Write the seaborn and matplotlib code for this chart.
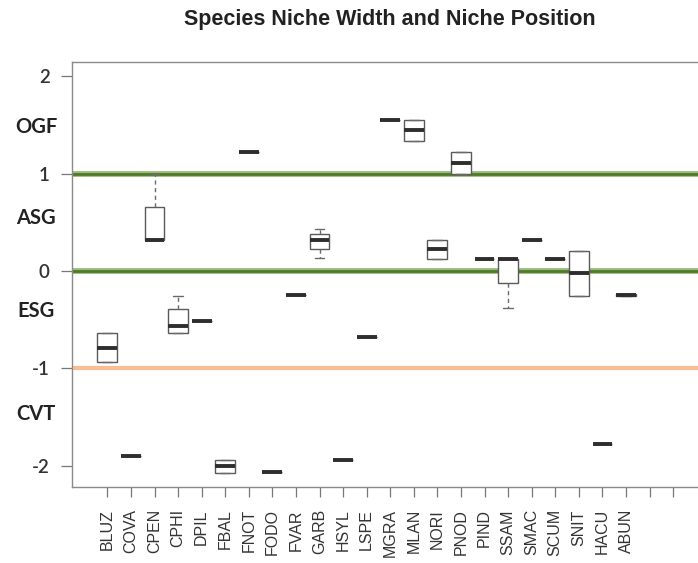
import numpy as np
import pandas as pd
import matplotlib
matplotlib.use("Agg")
import matplotlib.pyplot as plt
import matplotlib.transforms as mtransforms
import seaborn as sns

# Species codes, in axis order
species = ["BLUZ", "COVA", "CPEN", "CPHI", "DPIL", "FBAL", "FNOT", "FODO",
           "FVAR", "GARB", "HSYL", "LSPE", "MGRA", "MLAN", "NORI", "PNOD",
           "PIND", "SSAM", "SMAC", "SCUM", "SNIT", "HACU", "ABUN"]

# Five-number summaries of niche position per species
pos_min = [-0.938, -1.898, 0.319, -0.640, -0.511, -2.073, 1.220, -2.069,
           -0.250, 0.131, -1.942, -0.681, 1.552, 1.339, 0.123, 0.994,
           0.127, -0.383, 0.315, 0.127, -0.257, -1.775, -0.262]
pos_q1 = [-0.938, -1.898, 0.319, -0.640, -0.511, -2.073, 1.220, -2.069,
          -0.250, 0.223, -1.942, -0.681, 1.552, 1.339, 0.123, 0.994,
          0.127, -0.120, 0.315, 0.127, -0.257, -1.775, -0.258]
pos_med = [-0.794, -1.898, 0.319, -0.562, -0.511, -2.001, 1.220, -2.069,
           -0.250, 0.319, -1.942, -0.681, 1.552, 1.446, 0.223, 1.107,
           0.127, 0.127, 0.315, 0.127, -0.024, -1.775, -0.247]
pos_q3 = [-0.640, -1.898, 0.658, -0.391, -0.511, -1.942, 1.220, -2.069,
          -0.250, 0.377, -1.942, -0.681, 1.552, 1.552, 0.319, 1.226,
          0.127, 0.127, 0.315, 0.127, 0.202, -1.775, -0.236]
pos_max = [-0.640, -1.898, 0.994, -0.257, -0.511, -1.942, 1.220, -2.069,
           -0.250, 0.428, -1.942, -0.681, 1.552, 1.552, 0.319, 1.226,
           0.127, 0.127, 0.315, 0.127, 0.202, -1.775, -0.232]

# Guild bands and their boundaries
guild_names = ["OGF", "ASG", "ESG", "CVT"]
guild_label_y = [1.48, 0.545, -0.41, -1.47]
green_bounds = [1.0, 0.0]
orange_bound = -1.0

ytick_vals = [2, 1, 0, -1, -2]
ytick_text = ["2", "1", "0", "-1", "-2"]
n_slots = 25  # axis slots; the last two carry no species

# Long-form table: five observations per species reproduce its box
rows = []
for i, sp in enumerate(species):
    for v in (pos_min[i], pos_q1[i], pos_med[i], pos_q3[i], pos_max[i]):
        rows.append({"species": sp, "position": v})
df = pd.DataFrame(rows)

sns.set_theme(style="white")
plt.rcParams["font.family"] = ["Liberation Sans", "DejaVu Sans"]

fig = plt.figure(figsize=(6.98, 5.63), dpi=100)
ax = fig.add_axes([72 / 698, 76 / 563, 1 - 72 / 698, 425 / 563])

for yb in green_bounds:
    ax.axhline(yb, color="#9dba7e", lw=4.2, zorder=1)
    ax.axhline(yb, color="#4f7b29", lw=2.0, zorder=1)
ax.axhline(orange_bound, color="#f8bd92", lw=3.0, zorder=1)

sns.boxplot(data=df, x="species", y="position", order=species, ax=ax,
            color="white", linecolor="#5a5a5a", linewidth=1.0, width=0.84,
            whis=1.5, showfliers=False, saturation=1,
            medianprops=dict(color="#2e2e2e", linewidth=2.8, zorder=5),
            whiskerprops=dict(linestyle=(0, (3, 2.5)), color="#6a6a6a"),
            capprops=dict(color="#6a6a6a"))

ax.set_xlim(-1.5, (698 - 106.7) / 23.6)
ax.set_ylim(-2.22, 2.148)

ax.set_xticks(range(n_slots))
ax.set_xticklabels(species + [""] * (n_slots - len(species)),
                   rotation=90, fontsize=11.5, color="#333333")
ax.set_yticks(ytick_vals)
ax.set_yticklabels(ytick_text, fontsize=13.5, color="#333333",
                   family=["Lato", "DejaVu Sans"], fontweight="semibold")
ax.tick_params(axis="x", direction="out", length=7, width=0.9,
               color="#777777", pad=9, bottom=True)
ax.tick_params(axis="y", direction="out", length=8, width=0.9,
               color="#777777", pad=8, left=True)
ax.set_xlabel("")
ax.set_ylabel("")

for side in ("left", "bottom", "top"):
    ax.spines[side].set_visible(True)
    ax.spines[side].set_color("#8a8a8a")
    ax.spines[side].set_linewidth(1.0)
ax.spines["right"].set_visible(False)

# Guild names in the left margin
trans = mtransforms.blended_transform_factory(fig.transFigure, ax.transData)
for name, gy in zip(guild_names, guild_label_y):
    ax.text(36 / 698, gy, name, transform=trans, ha="center", va="center",
            fontsize=14.5, fontweight="bold", color="#222222",
            family=["Lato", "DejaVu Sans"], clip_on=False)

fig.text(390 / 698, 1 - 19 / 563, "Species Niche Width and Niche Position",
         ha="center", va="center", fontsize=15.5, fontweight="bold",
         color="#222222")

fig.savefig("out.png", dpi=100, facecolor="white")
